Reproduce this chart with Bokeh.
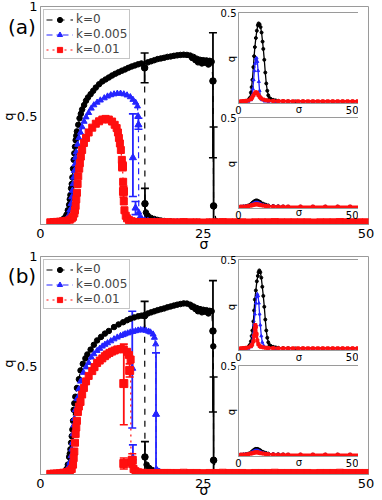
from bokeh.plotting import figure
from bokeh.models import (ColumnDataSource, Whisker, TeeHead, Legend, LegendItem,
                          FixedTicker, Range1d, Column, Div, AllLabels)
from bokeh.embed import file_html
from bokeh.resources import INLINE

FONT = "DejaVu Sans"
BLACK, BLUE, RED = "#000000", "#2424ff", "#ff0f0f"
GRAY = "#9a9a9a"

X_TICKS = [0, 25, 50]
Y_TICKS = [0.5, 1]
INSET_X_TICKS = [0, 50]
INSET_Y_TICKS = [0.5]
LABELS = ["k=0", "k=0.005", "k=0.01"]

# ---------------- panel (a) main ----------------
a_k0_sig = [1.5, 2.0, 2.5, 3.0, 3.5, 3.8, 4.0, 4.2, 4.4, 4.5, 4.6, 4.7, 4.8, 4.9, 5.0, 5.1, 5.2, 5.3, 5.4, 5.5,
            5.6, 5.8, 6.0, 6.2, 6.4, 6.7, 7.0, 7.3, 7.7, 8.1, 8.5, 9.0, 9.5, 10.0, 10.5, 11.0, 11.5, 12.0, 12.5, 13.0,
            13.5, 14.0, 14.5, 15.0, 15.5, 16.0, 16.05, 16.2, 16.5, 17.0, 17.5, 18.0, 18.5, 19.0, 20.0, 22.0, 24.0, 26.0]
a_k0_q = [0.015, 0.016, 0.018, 0.022, 0.03, 0.038, 0.05, 0.07, 0.095, 0.12, 0.14, 0.17, 0.19, 0.22, 0.26, 0.30, 0.33, 0.36, 0.39, 0.41,
          0.43, 0.46, 0.49, 0.51, 0.53, 0.55, 0.57, 0.585, 0.60, 0.615, 0.63, 0.645, 0.658, 0.667, 0.676, 0.685, 0.693, 0.70, 0.707, 0.713,
          0.72, 0.726, 0.731, 0.736, 0.74, 0.72, 0.10, 0.06, 0.045, 0.035, 0.03, 0.026, 0.023, 0.021, 0.019, 0.018, 0.017, 0.017]
a_k0u_sig = [16.5, 17.0, 17.5, 18.0, 18.5, 19.0, 19.5, 20.0, 20.5, 21.0, 21.5, 22.0, 22.5, 23.0, 23.3, 23.5,
             23.8, 24.0, 24.2, 24.5, 24.8, 25.0, 25.3, 25.5, 25.8, 26.0, 26.3, 26.5, 26.6, 27.0, 28.0, 30.0]
a_k0u_q = [0.745, 0.75, 0.755, 0.76, 0.763, 0.766, 0.77, 0.772, 0.775, 0.777, 0.779, 0.78, 0.779, 0.776, 0.765, 0.77,
           0.755, 0.762, 0.745, 0.757, 0.74, 0.755, 0.743, 0.754, 0.735, 0.752, 0.748, 0.66, 0.09, 0.02, 0.017, 0.016]
a_k0_eb_sig = [16.0, 16.05, 26.5, 26.6]
a_k0_eb_q = [0.72, 0.10, 0.66, 0.09]
a_k0_eb_lo = [0.652, 0.027, 0.31, 0.015]
a_k0_eb_hi = [0.788, 0.17, 0.88, 0.45]

a_k005_sig = [3.0, 3.5, 4.0, 4.3, 4.5, 4.7, 4.8, 4.9, 5.0, 5.1, 5.2, 5.3, 5.4, 5.5, 5.7, 5.9, 6.15, 6.4, 6.7, 7.0,
              7.4, 7.8, 8.2, 8.7, 9.2, 9.8, 10.3, 10.8, 11.3, 11.8, 12.3, 12.8, 13.3, 13.8, 14.2, 14.6, 14.9, 15.0, 15.05, 15.1,
              15.3, 15.6, 16.0, 16.5, 17.5, 19.0, 21.0]
a_k005_q = [0.018, 0.022, 0.03, 0.045, 0.07, 0.10, 0.13, 0.16, 0.19, 0.22, 0.25, 0.28, 0.31, 0.335, 0.37, 0.40, 0.425, 0.45, 0.475, 0.495,
            0.515, 0.535, 0.55, 0.562, 0.572, 0.582, 0.59, 0.596, 0.60, 0.603, 0.603, 0.60, 0.595, 0.587, 0.575, 0.562, 0.545, 0.50, 0.46, 0.06,
            0.04, 0.03, 0.025, 0.022, 0.02, 0.018, 0.017]
a_k005_eb_sig = [15.05, 14.2, 14.6]
a_k005_eb_q = [0.46, 0.31, 0.08]
a_k005_eb_lo = [0.44, 0.133, 0.05]
a_k005_eb_hi = [0.49, 0.51, 0.11]

a_k01_sig = [1.5, 2.0, 2.5, 3.0, 3.5, 4.0, 4.5, 4.8, 5.0, 5.2, 5.3, 5.4, 5.5, 5.6, 5.7, 5.8, 5.95, 6.05, 6.2, 6.4,
             6.67, 7.0, 7.4, 7.95, 8.5, 9.0, 9.5, 10.0, 10.5, 11.0, 11.4, 11.7, 11.9, 12.05, 12.2, 12.35, 12.5, 12.6, 12.7, 12.75,
             12.8, 12.9, 13.1, 13.3, 13.6, 14.0, 14.5, 15.0, 15.5, 16.0, 16.5, 17.0, 17.5, 18.0, 18.5, 19.0, 19.5, 20.0,
             21, 22, 23, 24, 25, 26, 27, 28, 29, 30, 31, 32, 33, 34, 35, 36, 37, 38, 39, 40,
             41, 42, 43, 44, 45, 46, 47, 48, 49, 50]
a_k01_q = [0.015, 0.016, 0.017, 0.018, 0.02, 0.022, 0.027, 0.033, 0.04, 0.055, 0.07, 0.09, 0.12, 0.15, 0.19, 0.225, 0.26, 0.285, 0.315, 0.345,
           0.377, 0.40, 0.425, 0.447, 0.465, 0.476, 0.484, 0.487, 0.484, 0.475, 0.46, 0.445, 0.425, 0.40, 0.375, 0.345, 0.30, 0.27, 0.2, 0.156,
           0.11, 0.07, 0.045, 0.033, 0.025, 0.02, 0.017, 0.016, 0.016, 0.015, 0.015, 0.015, 0.015, 0.015, 0.015, 0.015, 0.015, 0.015,
           0.015, 0.016, 0.015, 0.015, 0.014, 0.015, 0.015, 0.016, 0.015, 0.015, 0.015, 0.014, 0.015, 0.015, 0.015, 0.016, 0.015, 0.015, 0.015, 0.015,
           0.015, 0.014, 0.015, 0.015, 0.015, 0.016, 0.015, 0.015, 0.015, 0.015]
a_k01_eb_sig = [12.6, 12.75]
a_k01_eb_q = [0.27, 0.156]
a_k01_eb_lo = [0.25, 0.13]
a_k01_eb_hi = [0.29, 0.18]

# ---------------- panel (b) main ----------------
b_k0_sig = [1.5, 2.0, 2.5, 3.0, 3.5, 3.8, 4.0, 4.2, 4.4, 4.5, 4.6, 4.7, 4.8, 4.9, 5.0, 5.1, 5.2, 5.35, 5.6, 5.9,
            6.15, 6.5, 6.9, 7.2, 7.7, 8.2, 8.7, 9.3, 9.9, 10.5, 11.3, 12.0, 12.7, 13.3, 13.8, 14.4, 15.0, 15.5, 16.0, 16.05,
            16.3, 16.7, 17.2, 18.0, 19.0, 20.0, 22.0, 24.0, 26.0]
b_k0_q = [0.008, 0.009, 0.01, 0.012, 0.015, 0.02, 0.03, 0.05, 0.085, 0.10, 0.12, 0.15, 0.18, 0.21, 0.25, 0.30, 0.33, 0.36, 0.40, 0.44,
          0.48, 0.51, 0.535, 0.553, 0.575, 0.597, 0.617, 0.633, 0.648, 0.66, 0.678, 0.69, 0.70, 0.709, 0.716, 0.722, 0.727, 0.73, 0.73, 0.085,
          0.05, 0.035, 0.025, 0.018, 0.014, 0.012, 0.011, 0.01, 0.01]
b_k0u_sig = [16.5, 17.0, 17.5, 18.0, 18.5, 19.0, 19.5, 20.0, 20.5, 21.0, 21.5, 22.0, 22.5, 23.0, 23.3, 23.5, 23.8,
             24.0, 24.2, 24.5, 24.8, 25.0, 25.3, 25.5, 25.8, 26.0, 26.3, 26.5, 26.55, 26.6, 27.0, 28.0, 30.0]
b_k0u_q = [0.74, 0.745, 0.75, 0.755, 0.759, 0.763, 0.768, 0.772, 0.776, 0.78, 0.783, 0.786, 0.785, 0.78, 0.77, 0.772, 0.76,
           0.765, 0.75, 0.76, 0.745, 0.757, 0.748, 0.755, 0.74, 0.752, 0.75, 0.66, 0.59, 0.07, 0.015, 0.012, 0.01]
b_k0_eb_sig = [16.0, 16.05, 26.5, 26.6]
b_k0_eb_q = [0.73, 0.085, 0.66, 0.07]
b_k0_eb_lo = [0.66, 0.023, 0.29, 0.01]
b_k0_eb_hi = [0.795, 0.155, 0.89, 0.45]

b_k005_sig = [3.0, 3.5, 4.0, 4.3, 4.5, 4.7, 4.8, 4.9, 5.0, 5.1, 5.2, 5.35, 5.6, 5.9, 6.15, 6.6, 7.0, 7.4, 7.8, 8.2,
              8.7, 9.1, 9.5, 9.9, 10.3, 10.8, 11.3, 11.8, 12.3, 12.7, 13.0, 13.4, 13.8, 14.2, 14.6, 15.0, 15.4, 15.8, 16.2, 16.6,
              16.9, 17.3, 17.5, 17.7, 17.75, 17.8, 18.0, 18.3, 19.0, 20.0, 22.0]
b_k005_q = [0.01, 0.013, 0.02, 0.04, 0.06, 0.09, 0.12, 0.15, 0.19, 0.23, 0.26, 0.30, 0.35, 0.395, 0.43, 0.47, 0.495, 0.515, 0.54, 0.555,
            0.57, 0.58, 0.59, 0.598, 0.605, 0.614, 0.623, 0.631, 0.638, 0.642, 0.646, 0.65, 0.654, 0.657, 0.66, 0.663, 0.665, 0.664, 0.662, 0.658,
            0.654, 0.645, 0.63, 0.60, 0.28, 0.03, 0.022, 0.018, 0.014, 0.012, 0.011]
b_k005_eb_sig = [14.1, 14.2, 17.75]
b_k005_eb_q = [0.49, 0.08, 0.28]
b_k005_eb_lo = [0.217, 0.04, 0.01]
b_k005_eb_hi = [0.75, 0.14, 0.56]

b_k01_sig = [1.5, 2.0, 2.5, 3.0, 3.5, 4.0, 4.5, 4.8, 5.0, 5.1, 5.2, 5.3, 5.4, 5.5, 5.6, 5.75, 5.9, 6.15, 6.4, 6.67,
             7.0, 7.4, 7.95, 8.3, 8.7, 9.1, 9.5, 9.9, 10.2, 10.6, 11.0, 11.4, 11.8, 12.3, 12.8, 13.3, 13.6, 13.85, 13.9, 14.1,
             14.3, 14.6, 15.0, 15.5, 16.0, 16.5, 17.0, 17.5, 18.0, 18.5, 19.0, 19.5, 20.0,
             21, 22, 23, 24, 25, 26, 27, 28, 29, 30, 31, 32, 33, 34, 35, 36, 37, 38, 39, 40,
             41, 42, 43, 44, 45, 46, 47, 48, 49, 50]
b_k01_q = [0.008, 0.009, 0.01, 0.011, 0.013, 0.016, 0.022, 0.03, 0.05, 0.08, 0.11, 0.15, 0.19, 0.22, 0.25, 0.29, 0.315, 0.336, 0.37, 0.40,
           0.43, 0.455, 0.477, 0.495, 0.514, 0.525, 0.535, 0.545, 0.553, 0.56, 0.566, 0.571, 0.576, 0.578, 0.576, 0.565, 0.55, 0.53, 0.06, 0.07,
           0.03, 0.02, 0.015, 0.013, 0.012, 0.012, 0.012, 0.012, 0.012, 0.012, 0.012, 0.012, 0.012,
           0.012, 0.013, 0.012, 0.012, 0.011, 0.012, 0.012, 0.013, 0.012, 0.012, 0.012, 0.011, 0.012, 0.012, 0.012, 0.013, 0.012, 0.012, 0.012, 0.012,
           0.012, 0.011, 0.012, 0.012, 0.012, 0.013, 0.012, 0.012, 0.012, 0.012]
b_k01_eb_sig = [12.8, 13.7, 12.8, 14.1]
b_k01_eb_q = [0.42, 0.48, 0.055, 0.07]
b_k01_eb_lo = [0.232, 0.45, 0.03, 0.04]
b_k01_eb_hi = [0.60, 0.51, 0.08, 0.10]

# ---------------- insets ----------------
ia_top_k0_sig = [1, 2, 3, 4, 4.5, 5, 5.3, 5.6, 6, 6.3, 6.6, 7, 7.4, 7.8, 8.1, 8.5, 8.9, 9.3, 9.7, 10,
                 10.4, 10.8, 11.2, 11.6, 12, 12.5, 13, 14, 15, 16, 18, 20, 23, 26, 30, 34, 38, 42, 46, 50]
ia_top_k0_q = [0.01, 0.012, 0.015, 0.02, 0.03, 0.06, 0.09, 0.13, 0.2, 0.26, 0.31, 0.36, 0.40, 0.43, 0.44, 0.435, 0.42, 0.39, 0.34, 0.30,
               0.24, 0.17, 0.11, 0.07, 0.045, 0.03, 0.025, 0.02, 0.017, 0.015, 0.013, 0.012, 0.011, 0.011, 0.01, 0.01, 0.01, 0.01, 0.01, 0.01]
ia_top_k005_sig = [2, 4, 5, 5.4, 5.8, 6.1, 6.4, 6.7, 7.0, 7.3, 7.6, 7.9, 8.2, 8.5, 8.9, 9.5, 10.5, 12, 15, 20, 30, 40, 50]
ia_top_k005_q = [0.01, 0.012, 0.02, 0.04, 0.08, 0.13, 0.18, 0.22, 0.245, 0.25, 0.23, 0.18, 0.12, 0.07, 0.035, 0.02, 0.013, 0.011, 0.01,
                 0.01, 0.01, 0.01, 0.01]
ia_top_k01_sig = [1, 2, 3, 4, 5, 5.5, 6, 6.5, 7, 7.5, 8, 8.5, 9, 10, 11, 12, 14, 16, 18, 20, 22, 24, 26, 28, 30,
                  32, 34, 36, 38, 40, 42, 44, 46, 48, 50]
ia_top_k01_q = [0.012, 0.013, 0.014, 0.017, 0.024, 0.032, 0.044, 0.055, 0.062, 0.058, 0.047, 0.037, 0.029, 0.022, 0.018, 0.016, 0.014,
                0.013, 0.013, 0.012, 0.012, 0.012, 0.012, 0.012, 0.012, 0.012, 0.012, 0.012, 0.012, 0.012, 0.012, 0.012, 0.012, 0.012, 0.012]

ia_bot_sig = [1, 2, 3, 4, 5, 5.5, 6, 6.5, 7, 7.5, 8, 8.5, 9, 10, 11, 12, 14, 16, 18, 20, 25, 30, 35, 40, 45, 50]
ia_bot_k0_q = [0.01, 0.011, 0.013, 0.017, 0.024, 0.03, 0.036, 0.041, 0.044, 0.044, 0.041, 0.037, 0.033, 0.026, 0.021, 0.017, 0.014,
               0.012, 0.011, 0.01, 0.01, 0.01, 0.01, 0.01, 0.01, 0.01]
ia_bot_k005_q = [0.01, 0.011, 0.012, 0.015, 0.02, 0.024, 0.028, 0.031, 0.033, 0.033, 0.031, 0.028, 0.025, 0.02, 0.016, 0.014, 0.012,
                 0.011, 0.01, 0.01, 0.01, 0.01, 0.01, 0.01, 0.01, 0.01]
ia_bot_k01_q = [0.01, 0.01, 0.011, 0.013, 0.016, 0.018, 0.02, 0.022, 0.023, 0.023, 0.022, 0.02, 0.018, 0.016, 0.014, 0.012, 0.011,
                0.01, 0.01, 0.01, 0.01, 0.01, 0.01, 0.01, 0.01, 0.01]

ib_top_k0_sig = [1, 2, 3, 4, 4.5, 5, 5.3, 5.6, 6, 6.3, 6.6, 7, 7.4, 7.8, 8.1, 8.4, 8.8, 9.2, 9.6, 10,
                 10.4, 10.8, 11.2, 11.6, 12, 12.5, 13, 14, 15, 16, 18, 20, 23, 26, 30, 34, 38, 42, 46, 50]
ib_top_k0_q = [0.01, 0.012, 0.015, 0.02, 0.03, 0.05, 0.08, 0.11, 0.16, 0.22, 0.28, 0.33, 0.38, 0.41, 0.43, 0.44, 0.43, 0.40, 0.35, 0.30,
               0.24, 0.17, 0.11, 0.07, 0.045, 0.03, 0.025, 0.02, 0.017, 0.015, 0.013, 0.012, 0.011, 0.011, 0.01, 0.01, 0.01, 0.01, 0.01, 0.01]
ib_top_k005_sig = [2, 4, 5, 5.4, 5.8, 6.2, 6.6, 7.0, 7.3, 7.6, 7.9, 8.2, 8.5, 8.8, 9.2, 9.6, 10.2, 11, 12, 15, 20, 30, 40, 50]
ib_top_k005_q = [0.01, 0.012, 0.02, 0.04, 0.08, 0.14, 0.2, 0.26, 0.295, 0.31, 0.3, 0.26, 0.2, 0.14, 0.08, 0.045, 0.025, 0.016, 0.012,
                 0.01, 0.01, 0.01, 0.01, 0.01]
ib_top_k01_sig = [1, 2, 3, 4, 5, 5.5, 6.0, 6.3, 6.6, 6.8, 7.0, 7.3, 7.6, 8.0, 8.5, 9, 10, 11, 12, 14,
                  16, 18, 20, 22, 24, 26, 28, 30, 32, 34, 36, 38, 40, 42, 44, 46, 48, 50]
ib_top_k01_q = [0.012, 0.013, 0.014, 0.017, 0.024, 0.032, 0.05, 0.08, 0.12, 0.14, 0.13, 0.09, 0.055, 0.035, 0.025, 0.02, 0.017, 0.015,
                0.014, 0.013, 0.012, 0.012, 0.012, 0.012, 0.012, 0.012, 0.012, 0.012, 0.012, 0.012, 0.012, 0.012, 0.012, 0.012, 0.012,
                0.012, 0.012, 0.012]

ib_bot_sig = [1, 2, 3, 4, 5, 5.5, 6, 6.5, 7, 7.5, 8, 8.5, 9, 10, 11, 12, 14, 16, 18, 20, 25, 30, 35, 40, 45, 50]
ib_bot_k0_q = [0.01, 0.011, 0.013, 0.016, 0.022, 0.028, 0.034, 0.039, 0.042, 0.042, 0.04, 0.036, 0.032, 0.025, 0.02, 0.016, 0.013,
               0.012, 0.011, 0.01, 0.01, 0.01, 0.01, 0.01, 0.01, 0.01]
ib_bot_k005_q = [0.01, 0.011, 0.012, 0.015, 0.02, 0.024, 0.028, 0.031, 0.033, 0.033, 0.031, 0.028, 0.025, 0.02, 0.016, 0.014, 0.012,
                 0.011, 0.01, 0.01, 0.01, 0.01, 0.01, 0.01, 0.01, 0.01]
ib_bot_k01_q = [0.01, 0.01, 0.011, 0.013, 0.016, 0.018, 0.02, 0.022, 0.023, 0.023, 0.022, 0.02, 0.018, 0.016, 0.014, 0.012, 0.011,
                0.01, 0.01, 0.01, 0.01, 0.01, 0.01, 0.01, 0.01, 0.01]

STYLES = [
    dict(color=BLACK, dash="dashed", marker="circle", size=5.5),
    dict(color=BLUE, dash="dashdot", marker="triangle", size=6),
    dict(color=RED, dash="dotted", marker="square", size=7),
]


def add_series(p, sig, q, st, size=None, lw=1.2, dash=None):
    src = ColumnDataSource(dict(x=sig, y=q))
    ln = p.line("x", "y", source=src, line_color=st["color"], line_width=lw,
                line_dash=dash if dash is not None else st["dash"])
    sc = p.scatter("x", "y", source=src, marker=st["marker"], size=size or st["size"],
                   fill_color=st["color"], line_color=st["color"])
    return [ln, sc]


def add_eb(p, sig, q, lo, hi, st):
    src = ColumnDataSource(dict(x=sig, y=q, lo=lo, hi=hi))
    w = Whisker(base="x", lower="lo", upper="hi", source=src, dimension="height",
                line_color=st["color"], line_width=1.8,
                upper_head=TeeHead(size=8, line_color=st["color"], line_width=1.6),
                lower_head=TeeHead(size=8, line_color=st["color"], line_width=1.6))
    p.add_layout(w)
    p.scatter("x", "y", source=src, marker=st["marker"], size=st["size"] + 1,
              fill_color=st["color"], line_color=st["color"])


def style_axes(p, font_size, x_tick_out, x_standoff, y_tick_out, y_standoff):
    p.xgrid.visible = False
    p.ygrid.visible = False
    p.outline_line_color = GRAY
    p.outline_line_width = 1
    for ax, tout, so in ((p.xaxis[0], x_tick_out, x_standoff), (p.yaxis[0], y_tick_out, y_standoff)):
        ax.axis_line_color = GRAY
        ax.major_tick_line_color = None
        ax.minor_tick_line_color = None
        ax.major_tick_out = tout
        ax.major_tick_in = 0
        ax.minor_tick_out = 0
        ax.minor_tick_in = 0
        ax.major_label_policy = AllLabels()
        ax.major_label_text_font = FONT
        ax.major_label_text_font_size = font_size
        ax.major_label_text_color = "#000000"
        ax.major_label_standoff = so


def make_main(series, ebs):
    p = figure(width=382, height=250, x_range=Range1d(0, 50.4), y_range=Range1d(0.005, 1.0),
               output_backend="svg", toolbar_location=None,
               min_border_left=40, min_border_right=14, min_border_top=6, min_border_bottom=26,
               background_fill_color="white", border_fill_color="white")
    style_axes(p, "13px", 4, 0, 2, 1)
    p.xaxis.ticker = FixedTicker(ticks=X_TICKS)
    p.yaxis.ticker = FixedTicker(ticks=Y_TICKS)
    p.yaxis.major_label_overrides = {1: "1", 0.5: "0.5"}
    items = []
    for i, group in enumerate(series):
        st = STYLES[i]
        rs = []
        for (sig, q) in group:
            rs += add_series(p, sig, q, st)
        items.append(LegendItem(label=LABELS[i], renderers=rs[:2]))
    for i, group in enumerate(ebs):
        sig, q, lo, hi = group
        add_eb(p, sig, q, lo, hi, STYLES[i])
    leg = Legend(items=items, location="top_left", margin=3, padding=2, spacing=1,
                 label_text_font=FONT, label_text_font_size="12px", label_height=13,
                 glyph_width=27, glyph_height=13, label_standoff=3,
                 border_line_color="#8c8c8c", border_line_width=1, background_fill_alpha=1)
    p.add_layout(leg)
    return p


def make_inset(series, left, top):
    p = figure(frame_width=124, frame_height=91, x_range=Range1d(0, 50), y_range=Range1d(0, 0.5),
               output_backend="svg", toolbar_location=None,
               min_border_left=28, min_border_right=8, min_border_top=6, min_border_bottom=22,
               background_fill_color="white", border_fill_color=None)
    style_axes(p, "10px", 0, 2, 0, 2)
    p.xaxis.ticker = FixedTicker(ticks=INSET_X_TICKS)
    p.yaxis.ticker = FixedTicker(ticks=INSET_Y_TICKS)
    widths = [1.3, 1.3, 2.6]
    for i, (sig, q) in enumerate(series):
        add_series(p, sig, q, STYLES[i], size=3, lw=widths[i], dash="solid")
    p.styles = {"position": "absolute", "left": f"{left}px", "top": f"{top}px"}
    return p


def text_div(text, cx, cy, size, rotate=False, w=24):
    h = size + 4
    rot = "transform:rotate(-90deg);" if rotate else ""
    html = (f'<div style="width:{w}px;height:{h}px;line-height:{h}px;text-align:center;'
            f'font-family:\'{FONT}\';font-size:{size}px;color:#000;white-space:nowrap;{rot}">{text}</div>')
    return Div(text=html, width=w, height=h, margin=0,
               styles={"position": "absolute", "left": f"{cx - w / 2}px", "top": f"{cy - h / 2}px"})


pa = make_main(
    [[(a_k0_sig, a_k0_q), (a_k0u_sig, a_k0u_q)], [(a_k005_sig, a_k005_q)], [(a_k01_sig, a_k01_q)]],
    [(a_k0_eb_sig, a_k0_eb_q, a_k0_eb_lo, a_k0_eb_hi),
     (a_k005_eb_sig, a_k005_eb_q, a_k005_eb_lo, a_k005_eb_hi),
     (a_k01_eb_sig, a_k01_eb_q, a_k01_eb_lo, a_k01_eb_hi)])
pb = make_main(
    [[(b_k0_sig, b_k0_q), (b_k0u_sig, b_k0u_q)], [(b_k005_sig, b_k005_q)], [(b_k01_sig, b_k01_q)]],
    [(b_k0_eb_sig, b_k0_eb_q, b_k0_eb_lo, b_k0_eb_hi),
     (b_k005_eb_sig, b_k005_eb_q, b_k005_eb_lo, b_k005_eb_hi),
     (b_k01_eb_sig, b_k01_eb_q, b_k01_eb_lo, b_k01_eb_hi)])

INSET_LEFT = 198
ia1 = make_inset([(ia_top_k0_sig, ia_top_k0_q), (ia_top_k005_sig, ia_top_k005_q), (ia_top_k01_sig, ia_top_k01_q)], INSET_LEFT, 6)
ia2 = make_inset([(ia_bot_sig, ia_bot_k0_q), (ia_bot_sig, ia_bot_k005_q), (ia_bot_sig, ia_bot_k01_q)], INSET_LEFT, 111)
ib1 = make_inset([(ib_top_k0_sig, ib_top_k0_q), (ib_top_k005_sig, ib_top_k005_q), (ib_top_k01_sig, ib_top_k01_q)], INSET_LEFT, 253)
ib2 = make_inset([(ib_bot_sig, ib_bot_k0_q), (ib_bot_sig, ib_bot_k005_q), (ib_bot_sig, ib_bot_k01_q)], INSET_LEFT, 359)

texts = [
    text_div("(a)", 22, 27, 20, w=34),
    text_div("(b)", 22, 276, 20, w=34),
    text_div("q", 8, 116, 13, rotate=True),
    text_div("q", 8, 363, 13, rotate=True),
    text_div("σ", 204, 244, 14),
    text_div("σ", 204, 490, 14),
    text_div("q", 232, 57, 10, rotate=True),
    text_div("q", 232, 162, 10, rotate=True),
    text_div("q", 232, 305, 10, rotate=True),
    text_div("q", 232, 410, 10, rotate=True),
    text_div("σ", 299, 108, 10),
    text_div("σ", 299, 211, 10),
    text_div("σ", 299, 356, 10),
    text_div("σ", 299, 461, 10),
]

root = Column(children=[pa, pb, ia1, ia2, ib1, ib2] + texts, spacing=0,
              styles={"position": "relative"})

open("out.html", "w").write(file_html(root, INLINE))
